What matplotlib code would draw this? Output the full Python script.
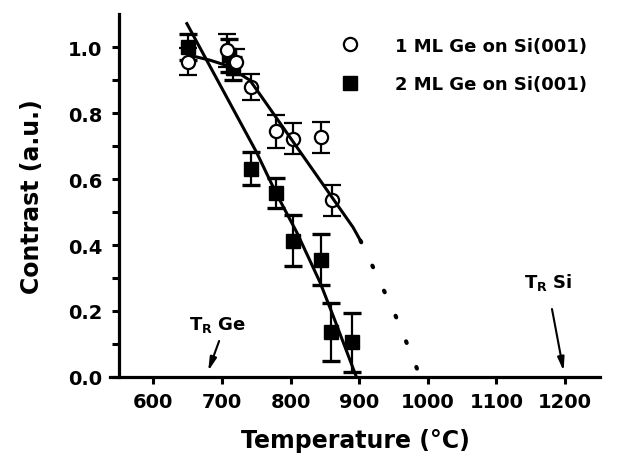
import numpy as np
import matplotlib
matplotlib.use('Agg')
import matplotlib.pyplot as plt
from matplotlib.lines import Line2D

plt.rcParams['font.family'] = ['DejaVu Sans']
plt.rcParams['font.weight'] = 'bold'
plt.rcParams['mathtext.default'] = 'regular'

# 1 ML Ge on Si(001)  (open circles)
t_1ml = [650, 708, 720, 743, 779, 804, 845, 860]
c_1ml = [0.956, 0.99, 0.955, 0.879, 0.745, 0.722, 0.727, 0.535]
e_1ml = [0.04, 0.05, 0.04, 0.04, 0.05, 0.047, 0.047, 0.048]

# 2 ML Ge on Si(001)  (filled squares)
t_2ml = [650, 710, 716, 743, 779, 804, 845, 859, 889]
c_2ml = [1.0, 0.975, 0.935, 0.631, 0.557, 0.413, 0.356, 0.137, 0.105]
e_2ml = [0.04, 0.05, 0.035, 0.05, 0.045, 0.078, 0.078, 0.088, 0.09]

# guide lines
fit1_t = [653, 683, 707, 741, 760, 828, 891, 902]
fit1_c = [0.975, 0.96, 0.944, 0.899, 0.843, 0.641, 0.454, 0.413]
fit1x_t = [902, 918, 935, 952, 968, 983, 989]
fit1x_c = [0.413, 0.343, 0.267, 0.191, 0.11, 0.032, 0.0]
fit2_t = [649, 700, 750, 779, 809, 843, 862, 896]
fit2_c = [1.071, 0.875, 0.683, 0.557, 0.439, 0.287, 0.186, 0.0]

labels = ['1 ML Ge on Si(001)', '2 ML Ge on Si(001)']
x_ticks = [600, 700, 800, 900, 1000, 1100, 1200]
y_ticks = [0.0, 0.2, 0.4, 0.6, 0.8, 1.0]

fig = plt.figure(figsize=(6.23, 4.6), dpi=100)
ax = fig.add_axes([0.1766, 0.1783, 0.7865, 0.789])

err_kw = dict(ls='none', ecolor='black', elinewidth=1.6, capsize=6.5, capthick=2.4)
ax.errorbar(t_2ml, c_2ml, yerr=e_2ml, marker='s', ms=9.5, mfc='black', mec='black',
            **err_kw, zorder=3)
ax.errorbar(t_1ml, c_1ml, yerr=e_1ml, marker='o', ms=9.5, mfc='white', mec='black',
            mew=1.6, **err_kw, zorder=4)

ax.plot(fit2_t, fit2_c, color='black', lw=2.2, zorder=5)
ax.plot(fit1_t, fit1_c, color='black', lw=2.2, zorder=5)
ax.plot(fit1x_t, fit1x_c, color='black', lw=3.0, ls=(0, (0.4, 6.23)),
        dash_capstyle='round', zorder=5)

# T_R annotations
arr = dict(arrowstyle='-|>,head_length=0.8,head_width=0.2', color='black', lw=1.5,
           shrinkA=0, shrinkB=0)
ax.annotate('', xy=(680, 0.018), xytext=(696, 0.109), arrowprops=arr)
ax.annotate('', xy=(1198, 0.018), xytext=(1181, 0.206), arrowprops=arr)
ax.text(652, 0.161, r'T$_{\mathbf{R}}$ Ge', fontsize=13, ha='left', va='center')
ax.text(1140, 0.288, r'T$_{\mathbf{R}}$ Si', fontsize=13, ha='left', va='center')

handles = [Line2D([], [], ls='none', marker='o', ms=9.5, mfc='white', mec='black', mew=1.6),
           Line2D([], [], ls='none', marker='s', ms=9.5, mfc='black', mec='black')]
ax.legend(handles, labels, loc='upper left', bbox_to_anchor=(0.471, 0.938),
          frameon=False, fontsize=13, handlelength=1.0, handletextpad=2.0,
          labelspacing=1.13, borderpad=0, borderaxespad=0)

ax.set_xlim(537, 1251)
ax.set_ylim(0, 1.1)
ax.spines['left'].set_position(('data', 550))
for s in ['top', 'right']:
    ax.spines[s].set_visible(False)
for s in ['left', 'bottom']:
    ax.spines[s].set_linewidth(2.3)

ax.set_xticks(x_ticks)
ax.set_yticks(y_ticks)
ax.set_yticks(np.arange(0.1, 1.1, 0.2), minor=True)
ax.set_yticklabels(['%.1f' % v for v in y_ticks])
ax.tick_params(axis='both', which='both', direction='out', length=5, width=2.2,
               labelsize=14)
ax.tick_params(axis='y', pad=7)
ax.tick_params(axis='x', pad=6)

ax.set_xlabel('Temperature (°C)', fontsize=17, fontweight='bold', labelpad=12)
ax.set_ylabel('Contrast (a.u.)', fontsize=17, fontweight='bold', labelpad=17)

fig.savefig('out.png', dpi=100)
